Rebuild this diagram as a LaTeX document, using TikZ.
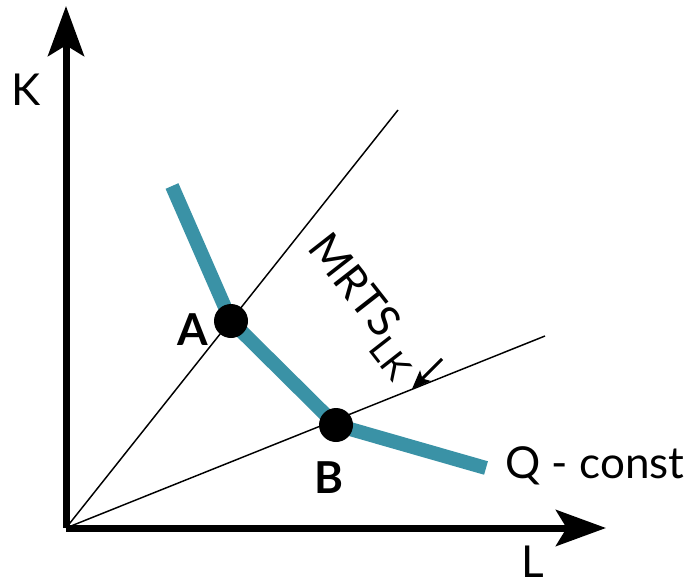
\documentclass[tikz,border=0pt]{standalone}
\usepackage{fontspec}
\setmainfont{Lato}
\usetikzlibrary{arrows.meta}
\definecolor{teal1}{HTML}{3A92A6}
\begin{document}
\begin{tikzpicture}[x=0.75pt,y=-0.75pt,
  axis/.style={line width=5.25pt,-{Stealth[length=37.5pt,width=27pt,inset=8pt]}},
  ray/.style={line width=1.1pt},
  iso/.style={line width=10.5pt,teal1,line join=miter},
  dot/.style={circle,fill=black,inner sep=0pt,minimum size=25.5pt},
  lbl/.style={font=\fontsize{33}{40}\selectfont,inner sep=0pt},
  blbl/.style={font=\fontsize{33}{40}\selectfont\bfseries,inner sep=0pt}]
\useasboundingbox (0,0) rectangle (696,585);
\coordinate (O) at (66,528);
\coordinate (Ytip) at (66,6);
\coordinate (Xtip) at (606,528);
\coordinate (R1) at (398,110);
\coordinate (R2) at (545,336);
\coordinate (C0) at (172,186);
\coordinate (C3) at (486,468);
\coordinate (pA) at (231,321);
\coordinate (pB) at (336,425);
\coordinate (s0) at (442,359);
\coordinate (s1) at (412,389);
\draw[ray] (O) -- (R1);
\draw[ray] (O) -- (R2);
\draw[iso] (C0) -- (pA) -- (pB) -- (C3);
\node[dot] (A) at (pA) {};
\node[dot] (B) at (pB) {};
\draw[axis] (O) -- (Ytip);
\draw[axis] (O) -- (Xtip);
\draw[line width=2.3pt,-{Stealth[length=14pt,width=11pt,inset=3pt]}] (s0) -- (s1);
\node[lbl] (K) at (26,90) {K};
\node[lbl] (L) at (533,562) {L};
\node[lbl,anchor=west] (Q) at (505,466) {Q - const};
\node[blbl] (Al) at (193,330) {A};
\node[blbl] (Bl) at (329,478) {B};
\node[lbl,rotate=-52] (M) at (363,306) {MRTS$_{\mbox{\fontsize{27}{30}\selectfont LK}}$};
\end{tikzpicture}
\end{document}
